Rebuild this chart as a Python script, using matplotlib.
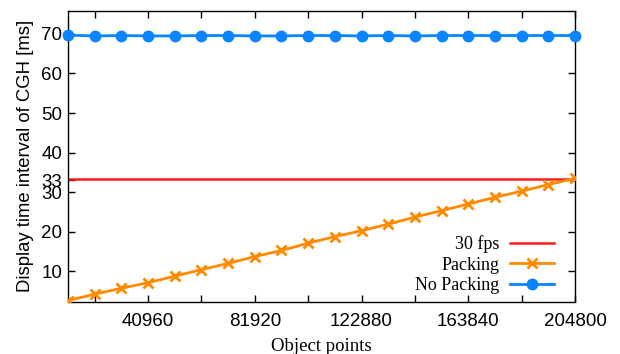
import matplotlib
matplotlib.use("Agg")
import matplotlib.pyplot as plt
import numpy as np

x_points = [10240 * i for i in range(1, 21)]
packing = [2.6, 4.2, 5.7, 7.1, 8.75, 10.4, 12.0, 13.7, 15.25, 17.1,
           18.75, 20.25, 21.9, 23.7, 25.3, 27.0, 28.7, 30.25, 31.9, 33.5]
no_packing = [69.7, 69.5, 69.6, 69.5, 69.5, 69.6, 69.6, 69.5, 69.5, 69.6,
              69.6, 69.5, 69.6, 69.5, 69.6, 69.6, 69.6, 69.6, 69.6, 69.6]
fps30 = 1000 / 30
x_ticks = [40960, 81920, 122880, 163840, 204800]
y_ticks = [10, 20, 30, 33, 40, 50, 60, 70]

fig = plt.figure(figsize=(6.2, 3.54), dpi=100)
ax = fig.add_axes([68/620, 1-301.5/354, (575-68)/620, (301.5-11)/354])

ax.axhline(fps30, color="#ff1a1a", lw=1.8, label="30 fps", zorder=2)
ax.plot(x_points, packing, color="#ff8a00", lw=2, marker="x", ms=7, mew=2,
        label="Packing", zorder=3)
ax.plot(x_points, no_packing, color="#0a84ff", lw=2, marker="o", ms=7.5,
        label="No Packing", zorder=3, clip_on=False)

ax.set_xlim(10240, 204800)
ax.set_ylim(2.35, 75.8)
ax.set_xticks(x_ticks)
ax.set_xticks([20480 * i for i in range(1, 11)], minor=True)
ax.set_yticks(y_ticks)
ax.set_yticklabels([str(v) for v in y_ticks])
ax.tick_params(direction="in", length=5, width=1, top=True, right=True,
               labelsize=13.5, pad=4)
ax.tick_params(axis="x", pad=8)
ax.tick_params(which="minor", direction="in", length=5, width=1, top=True, bottom=True)
for lab in ax.get_xticklabels() + ax.get_yticklabels():
    lab.set_family("Liberation Sans")
for s in ax.spines.values():
    s.set_linewidth(1)

ax.set_xlabel("Object points", family="Liberation Serif", fontsize=13.5, labelpad=6)
ax.set_ylabel("Display time interval of CGH [ms]", family="Liberation Sans",
              fontsize=13.3, labelpad=5)

leg = ax.legend(loc="lower right", frameon=False, markerfirst=False,
                prop={"family": "Liberation Serif", "size": 13},
                handlelength=2.4, labelspacing=0.2, borderaxespad=0.0,
                handletextpad=0.6, bbox_to_anchor=(0.972, 0.0),
                bbox_transform=ax.transAxes)
for t in leg.get_texts():
    t.set_ha("right")

fig.savefig("out.png", dpi=100)
